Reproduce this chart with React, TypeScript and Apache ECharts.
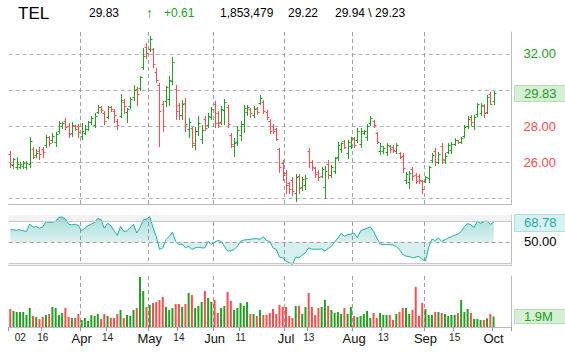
import React, { useEffect, useRef } from "react";
import * as echarts from "echarts";

const FONT = '"Liberation Sans", Arial, Helvetica, sans-serif';
const UP = "#22a022";
const DOWN = "#ff4d4d";
const TEAL = "#1fb0a8";

// ---- header texts ----
const ticker = "TEL";
const lastText = "29.83";
const changeText = "+0.61";
const volumeText = "1,853,479";
const prevText = "29.22";
const rangeText = "29.94 \\ 29.23";

// ---- calendar ----
const firstDay = "2010-03-02";
const lastDay = "2010-10-01";
const holidays = ["2010-04-02", "2010-05-31", "2010-07-05", "2010-09-06"];
const emptySlots = 5;
const tickLabels: Record<string, string> = {
  "2010-03-02": "02", "2010-03-16": "16", "2010-04-01": "Apr", "2010-04-14": "14",
  "2010-05-03": "May", "2010-05-14": "14", "2010-06-01": "Jun", "2010-06-11": "11",
  "2010-07-01": "Jul", "2010-07-13": "13", "2010-08-02": "Aug", "2010-08-13": "13",
  "2010-09-01": "Sep", "2010-09-15": "15", "2010-10-01": "Oct",
};
const monthNames = ["Apr", "May", "Jun", "Jul", "Aug", "Sep", "Oct"];
const gridMonthStarts = ["2010-04-01", "2010-05-03", "2010-06-01", "2010-07-01", "2010-08-02", "2010-09-01"];

// ---- price (OHLC) ----
const open = [
  26.45,25.82,25.75,25.75,25.78,25.70,25.90,26.75,26.40,26.60,
  26.75,26.95,27.40,27.20,27.10,27.70,28.00,28.30,28.00,27.60,
  28.00,28.00,27.45,27.60,27.85,28.20,28.05,28.80,29.05,28.75,
  28.50,29.05,28.85,28.30,28.55,29.35,28.80,29.10,29.60,30.05,
  30.10,31.30,32.40,32.25,32.30,31.00,30.30,29.20,29.40,29.50,
  30.50,30.05,29.15,28.60,29.30,27.85,27.90,26.95,27.70,27.30,
  28.40,28.05,28.50,29.25,28.70,28.25,28.90,29.05,27.50,26.90,
  27.10,27.50,28.10,28.80,28.95,28.60,29.00,29.30,29.35,28.80,
  28.30,28.00,27.85,26.70,25.95,25.40,24.85,25.00,24.30,25.20,
  24.60,24.70,26.60,26.00,25.65,25.45,25.25,24.60,25.90,25.30,
  25.50,26.30,26.70,27.15,26.50,26.90,27.35,27.20,27.00,27.60,
  27.40,28.15,28.30,27.60,26.60,26.60,26.55,26.90,26.85,26.60,
  26.50,26.35,25.00,24.90,25.60,25.30,25.25,24.95,24.95,25.10,
  26.10,26.60,26.00,26.90,26.10,26.55,26.65,27.00,27.20,27.10,
  27.45,28.00,28.50,28.00,28.65,28.70,29.10,28.80,29.80,29.40,
];
const high = [
  26.61,26.24,26.30,26.02,26.06,26.07,27.37,26.81,26.70,26.81,
  26.81,27.48,27.44,27.59,27.65,28.28,28.20,28.43,28.15,28.22,
  28.06,28.09,28.15,28.06,28.30,28.56,28.70,29.15,29.11,28.83,
  29.11,29.11,28.94,28.37,29.76,29.48,29.02,29.63,30.26,30.19,
  30.78,32.31,32.59,33.00,32.31,31.20,30.41,29.39,30.22,30.78,
  31.81,30.28,29.26,29.44,29.54,28.43,27.96,27.96,28.56,28.06,
  28.56,28.70,29.07,29.39,28.83,29.11,29.48,29.17,27.63,27.31,
  28.00,28.30,29.17,29.17,29.02,29.11,29.04,29.72,29.44,28.89,
  28.37,28.11,27.91,26.76,26.11,25.56,24.91,25.19,25.33,25.33,
  25.19,25.28,26.76,26.11,25.74,25.56,25.74,25.78,26.11,25.83,
  26.30,27.13,27.13,27.22,27.22,27.41,27.41,27.87,27.87,27.78,
  28.09,28.56,28.33,27.69,27.04,26.89,27.04,26.94,26.94,27.04,
  26.57,26.48,25.46,25.50,25.74,25.37,25.33,25.00,25.22,25.78,
  26.48,26.76,26.57,27.04,26.48,27.04,27.13,27.31,27.22,27.41,
  28.06,28.56,28.61,28.61,29.30,29.26,29.20,29.72,29.91,29.94,
];
const low = [
  25.74,25.69,25.59,25.69,25.69,25.59,25.70,26.24,26.26,26.19,
  26.30,26.85,26.89,27.13,26.91,27.63,27.91,27.83,27.41,27.44,
  27.78,27.37,27.26,27.54,27.78,28.11,27.96,28.70,28.80,28.09,
  28.43,28.83,28.24,27.81,28.48,28.70,28.24,29.02,29.44,29.17,
  30.00,31.17,31.76,32.19,31.30,30.46,26.89,27.72,29.13,29.15,
  30.33,28.39,28.39,28.37,27.74,27.41,26.85,26.70,27.50,27.04,
  27.78,27.96,28.37,27.96,27.96,28.09,28.09,27.96,26.85,26.35,
  26.94,27.22,27.69,28.61,28.48,28.48,28.65,29.22,28.70,28.37,
  27.59,27.59,27.22,25.46,25.00,24.30,24.26,24.17,23.85,24.30,
  24.44,24.48,25.74,25.56,25.19,25.00,25.19,23.98,25.09,25.19,
  25.37,26.11,26.57,26.76,26.20,26.76,26.81,27.13,26.85,27.56,
  27.22,28.06,27.96,27.04,26.44,26.52,26.39,26.57,26.57,26.48,
  26.20,25.46,24.81,24.54,25.00,24.81,24.85,24.26,24.91,24.91,
  26.02,25.83,25.93,25.93,25.93,26.48,26.52,26.94,27.04,27.04,
  27.41,27.87,28.06,27.81,28.56,28.61,28.48,28.70,29.20,29.23,
];
const close = [
  25.90,26.15,25.90,25.88,25.92,25.95,27.15,26.30,26.50,26.45,
  26.55,27.40,27.05,27.45,27.55,28.15,28.15,27.95,27.55,28.05,
  27.85,27.65,27.70,27.85,28.25,28.45,28.55,29.05,28.90,28.30,
  29.05,28.95,28.60,28.05,29.45,29.10,28.95,29.50,30.00,29.80,
  30.70,31.90,32.05,32.85,31.45,30.55,28.85,28.00,30.15,30.55,
  31.55,28.85,28.60,29.20,28.10,28.20,27.05,27.70,28.15,27.80,
  27.90,28.55,28.95,28.15,28.15,28.95,29.35,28.10,27.00,27.05,
  27.80,28.10,29.00,29.05,28.70,28.95,28.80,29.55,28.85,28.50,
  27.75,27.70,27.30,25.70,25.30,24.70,24.50,24.40,25.15,24.55,
  25.05,25.10,26.00,25.70,25.35,25.15,25.60,25.50,25.30,25.70,
  26.20,26.95,27.05,26.85,27.10,27.30,26.95,27.75,27.70,27.70,
  28.00,28.45,28.05,27.10,26.90,26.80,26.95,26.70,26.65,26.95,
  26.30,25.65,25.35,25.40,25.20,24.95,25.00,24.50,25.15,25.75,
  26.40,26.00,26.45,26.15,26.35,26.95,27.00,27.20,27.10,27.35,
  27.95,28.40,28.20,28.50,29.20,29.15,28.70,29.60,29.22,29.83,
];

// ---- volume (millions) ----
const volume = [
  3.18,2.82,2.65,2.65,2.65,2.12,3.35,1.94,1.76,1.41,
  1.76,2.12,2.29,3.53,3.35,2.12,2.47,3.35,1.76,1.59,
  1.59,2.29,1.24,1.59,1.06,2.12,1.94,2.29,1.41,2.29,
  1.94,1.59,1.59,2.29,3.00,1.59,2.12,1.94,3.00,3.35,
  8.82,6.35,3.53,3.88,4.24,4.41,4.76,5.29,3.53,3.00,
  3.35,4.06,4.06,3.53,4.06,6.00,5.65,3.35,3.71,4.41,
  6.35,5.12,4.41,4.76,2.47,3.35,3.71,6.18,4.59,3.00,
  3.35,4.24,3.71,4.41,2.29,2.29,1.94,3.00,2.12,2.12,
  2.47,3.18,2.29,3.88,3.53,3.53,1.94,1.59,3.71,3.71,
  2.29,3.53,6.00,3.53,2.12,3.35,3.53,4.76,3.71,3.00,
  2.47,2.65,2.29,3.35,2.29,3.53,1.94,1.76,1.94,2.29,
  2.82,1.59,2.47,1.59,2.47,2.12,2.12,2.12,1.24,2.29,
  2.65,3.35,3.35,2.29,3.00,7.06,1.94,4.24,3.18,2.12,
  2.12,2.65,2.65,2.47,2.29,1.94,2.12,2.12,2.47,4.76,
  2.65,3.18,2.47,1.41,1.41,1.24,1.24,1.53,2.29,1.853,
];

// ---- RSI ----
const rsi = [
  61.6,61.6,61.3,61.6,60.6,60.0,67.2,64.1,64.7,63.1,
  64.4,69.4,68.8,68.8,69.7,73.5,73.8,71.9,66.9,66.3,
  66.9,65.6,60.6,63.1,65.6,66.9,68.8,72.5,71.3,63.1,
  67.8,65.6,60.6,56.3,64.7,60.0,60.6,63.8,66.9,58.5,
  63.8,71.0,71.9,74.1,63.8,55.3,42.8,44.4,52.2,55.3,
  59.4,50.6,47.5,48.1,44.4,45.9,42.8,44.4,45.0,44.4,
  44.4,50.6,47.5,50.0,51.3,50.6,45.9,41.5,41.5,42.8,
  45.9,50.6,51.9,52.2,52.5,53.1,53.1,52.5,55.0,51.3,
  50.6,44.4,42.8,35.6,35.0,31.8,30.3,28.7,35.6,35.0,
  37.5,39.7,44.4,43.1,43.1,43.1,43.4,41.5,43.7,45.9,
  50.0,53.8,58.1,55.6,56.9,57.5,58.5,53.8,60.6,61.9,
  63.1,64.4,60.0,53.8,48.1,47.5,47.5,47.5,47.2,45.6,
  42.8,38.1,36.5,36.2,35.0,35.6,36.2,33.4,31.8,45.0,
  52.8,51.3,53.8,50.6,52.2,53.8,55.0,56.3,57.5,60.0,
  64.7,67.5,66.3,63.8,70.0,67.8,69.4,70.0,66.9,68.78,
];

// ---- axes ----
const priceMin = 23.667;
const priceMax = 33.222;
const priceGrid = [24, 26, 28, 30, 32];
const priceLabels = [26, 28, 32];
const rsiMin = 27.8;
const rsiMax = 75.7;
const volMax = 9;

function tradingDays(): string[] {
  const out: string[] = [];
  const [y0, m0, d0] = firstDay.split("-").map(Number);
  const [y1, m1, d1] = lastDay.split("-").map(Number);
  const d = new Date(Date.UTC(y0, m0 - 1, d0));
  const end = Date.UTC(y1, m1 - 1, d1);
  while (d.getTime() <= end) {
    const wd = d.getUTCDay();
    const s = d.toISOString().slice(0, 10);
    if (wd !== 0 && wd !== 6 && holidays.indexOf(s) < 0) out.push(s);
    d.setUTCDate(d.getUTCDate() + 1);
  }
  return out;
}

export default function App() {
  const ref = useRef<HTMLDivElement>(null);
  useEffect(() => {
    const el = ref.current!;
    const chart = echarts.init(el, null, { renderer: "svg" });
    const days = tradingDays();
    const cats = days.concat(Array.from({ length: emptySlots }, (_, k) => "pad" + k));
    const labelIdx = new Set<number>();
    days.forEach((d, i) => { if (tickLabels[d]) labelIdx.add(i); });
    const monthIdx = new Set<number>(gridMonthStarts.map((d) => days.indexOf(d)));
    const last = close[close.length - 1];
    const n = days.length;

    const gridPos = { left: 8.63, right: 53.57, outerBoundsMode: "none", containLabel: false };
    const split = {
      show: true,
      interval: (i: number) => monthIdx.has(i),
      lineStyle: { color: "#a0a0a0", type: [4, 3], width: 1 },
    };
    const ohlc = days.map((_, i) => [i, open[i], close[i], low[i], high[i]]);
    const vols = days.map((_, i) => ({
      value: volume[i],
      itemStyle: { color: close[i] >= open[i] ? UP : DOWN },
    }));

    const option: any = {
      animation: false,
      backgroundColor: "#fff",
      textStyle: { fontFamily: FONT },
      grid: [
        { ...gridPos, top: 32, height: 172 },
        { ...gridPos, top: 215, height: 50.3 },
        { ...gridPos, top: 276, height: 51 },
      ],
      xAxis: [
        {
          type: "category", gridIndex: 0, data: cats, boundaryGap: true,
          axisLine: { show: true, lineStyle: { color: "#bbb" } },
          axisTick: { show: false }, axisLabel: { show: false }, splitLine: split,
        },
        {
          type: "category", gridIndex: 1, data: cats, boundaryGap: true,
          axisLine: { show: true, lineStyle: { color: "#bbb" } },
          axisTick: { show: false }, axisLabel: { show: false }, splitLine: split,
        },
        {
          type: "category", gridIndex: 2, data: cats, boundaryGap: true,
          axisLine: { show: true, lineStyle: { color: "#bbb" } },
          axisTick: {
            show: true, interval: (i: number) => labelIdx.has(i), length: 4,
            lineStyle: { color: "#999" },
          },
          axisLabel: {
            show: true,
            interval: (i: number) => labelIdx.has(i),
            margin: 5,
            formatter: (v: string, i: number) => {
              const t = tickLabels[v];
              if (!t) return "";
              if (monthNames.indexOf(t) >= 0) return "{m|" + t + "}";
              if (i === 0) return "{f|" + t + "}";
              return "{d|" + t + "}";
            },
            rich: {
              m: { fontSize: 13, color: "#111", fontFamily: FONT },
              d: { fontSize: 10, color: "#222", fontFamily: FONT },
              f: { fontSize: 10, color: "#222", fontFamily: FONT, padding: [0, 0, 0, 20] },
            },
          },
          splitLine: split,
        },
      ],
      yAxis: [
        {
          type: "value", gridIndex: 0, position: "right", min: priceMin, max: priceMax, scale: true,
          axisLine: { show: true, lineStyle: { color: "#bbb" } },
          axisTick: { show: false, customValues: priceGrid },
          splitLine: { show: true, lineStyle: { color: "#b3b3b3", type: [4, 3] } },
          axisLabel: {
            show: true, margin: 12, customValues: priceLabels,
            formatter: (v: number) => (v > last ? "{u|" : "{w|") + v.toFixed(2) + "}",
            rich: {
              u: { color: UP, fontSize: 13, fontFamily: FONT },
              w: { color: DOWN, fontSize: 13, fontFamily: FONT },
            },
          },
        },
        {
          type: "value", gridIndex: 1, position: "right", min: rsiMin, max: rsiMax,
          axisLine: { show: true, lineStyle: { color: "#bbb" } },
          axisTick: { show: false }, axisLabel: { show: false }, splitLine: { show: false },
        },
        {
          type: "value", gridIndex: 2, position: "right", min: 0, max: volMax,
          axisLine: { show: true, lineStyle: { color: "#bbb" } },
          axisTick: { show: false }, axisLabel: { show: false }, splitLine: { show: false },
        },
      ],
      series: [
        {
          type: "custom",
          xAxisIndex: 0, yAxisIndex: 0,
          data: ohlc,
          encode: { x: 0, y: [1, 2, 3, 4] },
          renderItem: (_p: any, api: any) => {
            const i = api.value(0);
            const o = api.value(1), c = api.value(2), l = api.value(3), h = api.value(4);
            const po = api.coord([i, o]);
            const pc = api.coord([i, c]);
            const pl = api.coord([i, l]);
            const ph = api.coord([i, h]);
            const x = Math.round(po[0]) + 0.5;
            const col = c >= o ? UP : DOWN;
            const yo = Math.round(po[1]) + 0.5;
            const yc = Math.round(pc[1]) + 0.5;
            const st = { stroke: col, lineWidth: 1 };
            return {
              type: "group",
              children: [
                { type: "line", shape: { x1: x, y1: Math.round(ph[1]), x2: x, y2: Math.round(pl[1]) + 1 }, style: st },
                { type: "line", shape: { x1: x - 2, y1: yo, x2: x, y2: yo }, style: st },
                { type: "line", shape: { x1: x, y1: yc, x2: x + 2, y2: yc }, style: st },
              ],
            };
          },
        },
        {
          type: "line",
          xAxisIndex: 1, yAxisIndex: 1,
          data: rsi.slice(0, n),
          symbol: "none",
          lineStyle: { color: TEAL, width: 1 },
          areaStyle: {
            origin: 50,
            color: new echarts.graphic.LinearGradient(0, 0, 0, 1, [
              { offset: 0, color: "rgba(31,170,163,0.55)" },
              { offset: 0.5, color: "rgba(31,170,163,0.25)" },
              { offset: 1, color: "rgba(31,170,163,0.25)" },
            ]),
          },
          markArea: {
            silent: true,
            itemStyle: { color: "#f2f4f3" },
            data: [
              [{ yAxis: 70 }, { yAxis: rsiMax }],
              [{ yAxis: rsiMin }, { yAxis: 30 }],
            ],
          },
          markLine: {
            silent: true,
            symbol: ["none", "none"],
            label: { show: false },
            data: [
              { yAxis: 70, lineStyle: { color: "#c8c8c8", type: "solid", width: 1 } },
              { yAxis: 30, lineStyle: { color: "#c8c8c8", type: "solid", width: 1 } },
              { yAxis: 50, lineStyle: { color: "#a0a0a0", type: [4, 3], width: 1 } },
            ],
          },
        },
        {
          type: "bar",
          xAxisIndex: 2, yAxisIndex: 2,
          data: vols,
          barWidth: 2,
        },
      ],
    };
    chart.setOption(option);

    const yPrice = chart.convertToPixel({ yAxisIndex: 0 }, last) as number;
    const lastRsi = rsi[n - 1];
    const yRsi = chart.convertToPixel({ yAxisIndex: 1 }, lastRsi) as number;
    const y50 = chart.convertToPixel({ yAxisIndex: 1 }, 50) as number;
    const lastVol = volume[n - 1];
    const yVol = chart.convertToPixel({ yAxisIndex: 2 }, lastVol) as number;

    const hdr = (text: string, x: number, fill = "#000", size = 12, weight = "normal") => ({
      type: "text", x, y: 13,
      style: { text, fill, font: `${weight} ${size}px ${FONT}`, verticalAlign: "middle", align: "left" },
    });
    const box = (y: number, h: number, fill: string, stroke: string, text: string, color: string) => [
      {
        type: "rect", shape: { x: 514.5, y: Math.round(y - h / 2) + 0.5, width: 52, height: h },
        style: { fill, stroke, lineWidth: 1 },
      },
      {
        type: "text", x: 524, y: y,
        style: { text, fill: color, font: `13px ${FONT}`, verticalAlign: "middle", align: "left" },
      },
    ];

    chart.setOption({
      graphic: [
        hdr(ticker, 18, "#000", 17),
        hdr(lastText, 89, "#000", 12),
        hdr("↑", 146, UP, 14, "bold"),
        hdr(changeText, 164, UP, 12),
        hdr(volumeText, 220, "#000", 12),
        hdr(prevText, 288, "#000", 12),
        hdr(rangeText, 335, "#000", 12),
        ...box(yPrice, 16, "#d5f0d5", "#b5e0b5", last.toFixed(2), UP),
        ...box(yRsi, 17, "#d6f2f2", "#a9dfdd", lastRsi.toFixed(2), TEAL),
        {
          type: "text", x: 524, y: y50,
          style: { text: "50.00", fill: "#000", font: `13px ${FONT}`, verticalAlign: "middle", align: "left" },
        },
        ...box(yVol, 14, "#d5f0d5", "#b5e0b5", (Math.round(lastVol * 10) / 10).toFixed(1) + "M", UP),
      ],
    });

    return () => chart.dispose();
  }, []);

  return (
    <div
      ref={ref}
      style={{ position: "fixed", left: 0, top: 0, width: 565, height: 352, background: "#fff" }}
    />
  );
}
